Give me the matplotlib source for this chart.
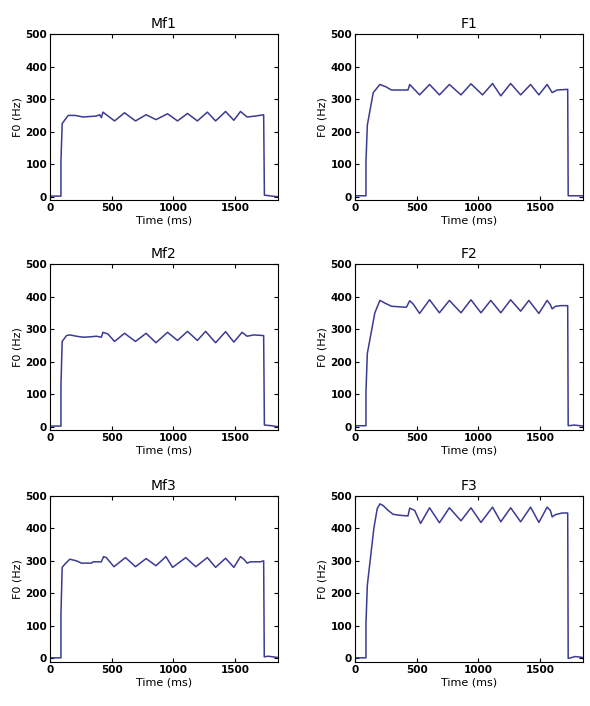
import matplotlib
matplotlib.use("Agg")
import matplotlib.pyplot as plt

# F0 contours (time in ms, F0 in Hz)
mf1_t = [0, 89, 89, 99, 148, 202, 269, 376, 403, 417, 430, 524, 605, 694, 780, 860, 954,
         1035, 1116, 1196, 1277, 1344, 1425, 1492, 1546, 1600, 1667, 1734, 1740, 1800, 1850]
mf1_f = [2, 2, 108, 225, 250, 250, 245, 248, 252, 243, 260, 233, 258, 233, 252, 237, 255,
         233, 256, 233, 260, 233, 262, 235, 262, 245, 248, 252, 5, 2, 0]

f1_t = [0, 89, 89, 100, 148, 202, 250, 296, 430, 444, 524, 605, 685, 766, 860, 941,
        1035, 1116, 1183, 1263, 1344, 1425, 1492, 1559, 1600, 1640, 1726, 1730, 1850]
f1_f = [3, 3, 108, 220, 320, 345, 338, 328, 328, 345, 313, 345, 313, 345, 313, 347,
        313, 348, 310, 348, 313, 345, 313, 345, 320, 328, 330, 3, 3]

mf2_t = [0, 89, 89, 99, 134, 161, 215, 269, 322, 376, 417, 430, 470, 524, 605, 694, 780,
         860, 954, 1035, 1116, 1196, 1263, 1344, 1425, 1492, 1559, 1600, 1653, 1734,
         1740, 1800, 1850]
mf2_f = [2, 2, 125, 262, 280, 282, 278, 275, 276, 278, 275, 290, 285, 262, 287, 262, 287,
         258, 290, 265, 293, 265, 293, 258, 292, 260, 290, 278, 282, 280,
         5, 3, 0]

f2_t = [0, 89, 89, 100, 161, 202, 242, 296, 417, 444, 470, 524, 605, 685, 766, 860, 941,
        1022, 1102, 1183, 1263, 1344, 1411, 1492, 1559, 1585, 1600, 1627, 1670, 1726,
        1730, 1780, 1850]
f2_f = [3, 3, 108, 225, 350, 388, 380, 370, 367, 387, 378, 348, 390, 350, 388, 350, 390,
        350, 388, 350, 390, 355, 388, 348, 388, 375, 362, 370, 372, 372,
        3, 5, 2]

mf3_t = [0, 89, 89, 99, 121, 161, 215, 255, 336, 350, 417, 435, 457, 519, 613, 694, 780,
         860, 941, 995, 1102, 1183, 1277, 1344, 1425, 1492, 1546, 1573, 1600, 1627,
         1707, 1734, 1739, 1770, 1850]
mf3_f = [2, 2, 135, 280, 290, 305, 300, 293, 293, 297, 297, 313, 310, 282, 310, 282, 307,
         285, 313, 280, 310, 282, 310, 280, 308, 280, 313, 305, 293, 297,
         297, 300, 5, 7, 3]

f3_t = [0, 89, 89, 100, 153, 180, 202, 228, 269, 309, 363, 430, 444, 484, 532, 605, 685,
        766, 860, 941, 1022, 1116, 1183, 1263, 1344, 1425, 1492, 1559, 1585, 1600, 1627,
        1680, 1726, 1730, 1788, 1850]
f3_f = [2, 2, 108, 225, 400, 460, 475, 470, 455, 443, 440, 438, 462, 455, 415, 463, 417,
        463, 423, 463, 418, 465, 420, 463, 420, 465, 418, 465, 455, 435, 442,
        447, 447, 0, 6, 3]

titles = ["Mf1", "F1", "Mf2", "F2", "Mf3", "F3"]
times = [mf1_t, f1_t, mf2_t, f2_t, mf3_t, f3_t]
values = [mf1_f, f1_f, mf2_f, f2_f, mf3_f, f3_f]

line_color = "#3b3b94"

fig = plt.figure(figsize=(5.9, 7.06), dpi=100)

lefts = [0.0847, 0.6017]
bottoms = [0.7167, 0.391, 0.0627]
w, h = 0.3864, 0.2351

for i, name in enumerate(titles):
    row, col = divmod(i, 2)
    ax = fig.add_axes([lefts[col], bottoms[row], w, h])
    ax.plot(times[i], values[i], color=line_color, lw=1.1)
    ax.set_xlim(0, 1850)
    ax.set_ylim(-10, 500)
    ax.set_xticks([0, 500, 1000, 1500])
    ax.set_yticks([0, 100, 200, 300, 400, 500])
    ax.tick_params(direction="in", top=True, right=True, length=3,
                   labelsize=7.5, width=0.8, pad=2)
    for lab in ax.get_xticklabels() + ax.get_yticklabels():
        lab.set_fontweight("bold")
    ax.set_title(name, fontsize=10, pad=4)
    ax.set_xlabel("Time (ms)", fontsize=8, labelpad=2)
    ax.set_ylabel("F0 (Hz)", fontsize=8, labelpad=2)
    for s in ax.spines.values():
        s.set_linewidth(0.8)

fig.savefig("out.png", dpi=100)
